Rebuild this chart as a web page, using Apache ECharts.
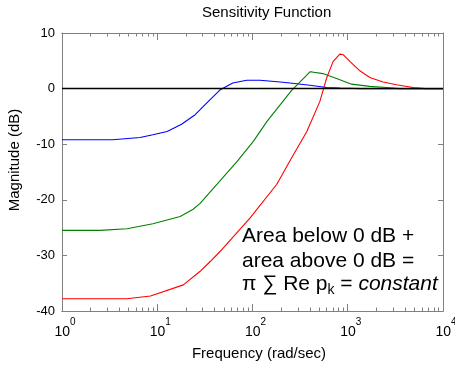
<!DOCTYPE html>
<html>
<head>
<meta charset="utf-8">
<script src="https://cdn.jsdelivr.net/npm/echarts@6/dist/echarts.min.js"></script>
<style>
html,body{margin:0;padding:0;background:#fff;}
#chart{width:455px;height:365px;}
</style>
</head>
<body>
<div id="chart"></div>
<script>
// ---- data ----
const blueFreq  = [1, 3.4, 6.6, 9, 12.7, 18, 25, 34, 46, 62, 87, 120, 195, 247, 401, 600, 830, 1340, 10000];
const blueMag   = [-9.2, -9.2, -8.8, -8.3, -7.7, -6.4, -4.7, -2.4, -0.2, 1.0, 1.5, 1.5, 1.2, 1.0, 0.6, 0.2, 0.1, 0, 0];

const greenFreq = [1, 2.5, 4.8, 9, 17.4, 23.8, 28, 42.5, 69, 102, 142, 255, 401, 421, 548, 763, 1096, 1705, 2550, 3500, 10000];
const greenMag  = [-25.5, -25.5, -25.2, -24.3, -23.0, -21.7, -20.7, -17.2, -13.1, -9.5, -5.9, -0.4, 3.0, 3.0, 2.7, 1.8, 0.8, 0.4, 0.2, 0, 0];

const redFreq   = [1, 4.8, 8.5, 18.8, 28, 36, 45.6, 94, 180, 257, 372, 510, 600, 703, 826, 895, 1052, 1340, 1705, 2350, 3250, 4850, 6500, 10000];
const redMag    = [-37.8, -37.8, -37.3, -35.3, -32.9, -31.1, -29.3, -23.3, -17.2, -12.5, -7.7, -2.3, 1.9, 4.9, 6.2, 6.1, 4.9, 3.2, 2.0, 1.2, 0.7, 0.2, 0, 0];

const zeroFreq  = [1, 10000];
const zeroMag   = [0, 0];

const xMajorTicks = [1, 10, 100, 1000, 10000];
const xMinorTicks = [2,3,4,5,6,7,8,9, 20,30,40,50,60,70,80,90, 200,300,400,500,600,700,800,900, 2000,3000,4000,5000,6000,7000,8000,9000];
const yMin = -40, yMax = 10, yStep = 10;

const titleText = 'Sensitivity Function';
const xTitle = 'Frequency (rad/sec)';
const yTitle = 'Magnitude (dB)';
const noteLine1 = 'Area below 0 dB +';
const noteLine2 = 'area above 0 dB =';

// ---- chart ----
const FONT = '"Liberation Sans", Arial, Helvetica, sans-serif';
const GRAY = '#808080';
const pairs = (xs, ys) => xs.map((x, i) => [x, ys[i]]);

const chart = echarts.init(document.getElementById('chart'), null, {renderer: 'canvas'});

function xAxisDef(position, ticks, len, withLabels) {
  return {
    type: 'log', logBase: 10, min: 1, max: 10000, position: position, gridIndex: 0,
    axisLine: {show: true, onZero: false, lineStyle: {color: GRAY, width: 1}},
    axisTick: {show: true, inside: true, length: len, customValues: ticks, lineStyle: {color: GRAY, width: 1}},
    minorTick: {show: false},
    splitLine: {show: false},
    axisLabel: withLabels ? {
      show: true, customValues: xMajorTicks, margin: 6, padding: [0, 0, 0, 6],
      formatter: function (v) { return '{b|10}{e|' + Math.round(Math.log10(v)) + '}'; },
      rich: {
        b: {fontSize: 14, fontFamily: FONT, color: '#000', lineHeight: 30},
        e: {fontSize: 10, fontFamily: FONT, color: '#000', lineHeight: 6, verticalAlign: 'top'}
      }
    } : {show: false}
  };
}

const xAxes = [
  Object.assign(xAxisDef('bottom', xMajorTicks, 7, true), {
    name: xTitle, nameLocation: 'middle', nameGap: 35,
    nameTextStyle: {fontSize: 15, fontFamily: FONT, color: '#000', padding: [0, 0, 0, 13]}
  }),
  xAxisDef('bottom', xMinorTicks, 3.5, false),
  xAxisDef('top', xMajorTicks, 7, false),
  xAxisDef('top', xMinorTicks, 3.5, false)
];

function yAxisDef(position, withLabels) {
  return {
    type: 'value', min: yMin, max: yMax, interval: yStep, position: position, gridIndex: 0,
    axisLine: {show: true, onZero: false, lineStyle: {color: GRAY, width: 1}},
    axisTick: {show: true, inside: true, length: 5, lineStyle: {color: GRAY, width: 1}},
    splitLine: {show: false},
    axisLabel: withLabels ? {show: true, margin: 7, fontSize: 13, fontFamily: FONT, color: '#000'} : {show: false}
  };
}

const yAxes = [
  Object.assign(yAxisDef('left', true), {
    name: yTitle, nameLocation: 'middle', nameGap: 40, nameRotate: 90,
    nameTextStyle: {fontSize: 15, fontFamily: FONT, color: '#000', padding: [0, 0, 0, 24]}
  }),
  yAxisDef('right', false)
];

function lineSeries(name, data, color, width, z) {
  return {
    name: name, type: 'line', xAxisIndex: 0, yAxisIndex: 0, data: data,
    showSymbol: false, symbol: 'none', smooth: false, animation: false, z: z,
    lineStyle: {color: color, width: width}
  };
}

chart.setOption({
  animation: false,
  backgroundColor: '#fff',
  title: {
    text: titleText, left: 202, top: 5, padding: 0,
    textStyle: {fontSize: 15, fontWeight: 'normal', fontFamily: FONT, color: '#000'}
  },
  grid: {left: 62, right: 12, top: 33, bottom: 54, containLabel: false, outerBoundsMode: 'none'},
  xAxis: xAxes,
  yAxis: yAxes,
  series: [
    lineSeries('S1', pairs(blueFreq, blueMag), '#0000ff', 1.1, 2),
    lineSeries('S2', pairs(greenFreq, greenMag), '#008000', 1.1, 3),
    lineSeries('S3', pairs(redFreq, redMag), '#ff0000', 1.1, 4),
    lineSeries('zero', pairs(zeroFreq, zeroMag), '#000000', 1.5, 5)
  ],
  graphic: [
    {type: 'text', left: 242, top: 226, z: 10,
     style: {text: noteLine1, font: '21px ' + FONT, fill: '#000'}},
    {type: 'text', left: 242, top: 251, z: 10,
     style: {text: noteLine2, font: '21px ' + FONT, fill: '#000'}},
    {type: 'text', left: 242, top: 274, z: 10,
     style: {
       text: '{n|\u03c0 \u2211 Re p}{s|k}{n| = }{i|constant}',
       rich: {
         n: {fontSize: 21, fontFamily: FONT, fill: '#000', lineHeight: 26},
         s: {fontSize: 14, fontFamily: FONT, fill: '#000', lineHeight: 12, verticalAlign: 'bottom'},
         i: {fontSize: 21, fontFamily: FONT, fill: '#000', fontStyle: 'italic', lineHeight: 26}
       }
     }}
  ]
});
</script>
</body>
</html>
